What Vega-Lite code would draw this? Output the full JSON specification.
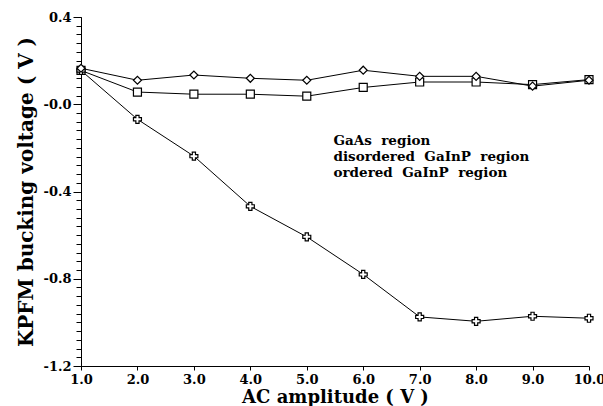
{
  "$schema": "https://vega.github.io/schema/vega-lite/v6.json",
  "width": 508,
  "height": 349,
  "autosize": {"type": "none"},
  "padding": {"left": 81, "top": 17, "right": 14, "bottom": 40},
  "background": "white",
  "config": {
    "view": {"stroke": null},
    "font": "DejaVu Serif",
    "axis": {
      "domainColor": "black",
      "domainWidth": 1,
      "tickColor": "black",
      "tickWidth": 1,
      "grid": false,
      "labelFont": "DejaVu Serif",
      "labelFontWeight": "bold",
      "labelFontSize": 13,
      "labelColor": "black",
      "labelFlush": false,
      "titleFont": "DejaVu Serif",
      "titleFontWeight": "bold",
      "titleFontSize": 18,
      "titleColor": "black"
    }
  },
  "data": {
    "values": [
      {"series": "GaAs region", "amp": 1, "v": 0.155},
      {"series": "GaAs region", "amp": 2, "v": 0.056},
      {"series": "GaAs region", "amp": 3, "v": 0.046},
      {"series": "GaAs region", "amp": 4, "v": 0.046},
      {"series": "GaAs region", "amp": 5, "v": 0.037},
      {"series": "GaAs region", "amp": 6, "v": 0.077},
      {"series": "GaAs region", "amp": 7, "v": 0.102},
      {"series": "GaAs region", "amp": 8, "v": 0.102},
      {"series": "GaAs region", "amp": 9, "v": 0.09},
      {"series": "GaAs region", "amp": 10, "v": 0.113},
      {"series": "disordered GaInP region", "amp": 1, "v": 0.155},
      {"series": "disordered GaInP region", "amp": 2, "v": -0.069},
      {"series": "disordered GaInP region", "amp": 3, "v": -0.238},
      {"series": "disordered GaInP region", "amp": 4, "v": -0.468},
      {"series": "disordered GaInP region", "amp": 5, "v": -0.608},
      {"series": "disordered GaInP region", "amp": 6, "v": -0.78},
      {"series": "disordered GaInP region", "amp": 7, "v": -0.975},
      {"series": "disordered GaInP region", "amp": 8, "v": -0.995},
      {"series": "disordered GaInP region", "amp": 9, "v": -0.972},
      {"series": "disordered GaInP region", "amp": 10, "v": -0.981},
      {"series": "ordered GaInP region", "amp": 1, "v": 0.165},
      {"series": "ordered GaInP region", "amp": 2, "v": 0.11},
      {"series": "ordered GaInP region", "amp": 3, "v": 0.134},
      {"series": "ordered GaInP region", "amp": 4, "v": 0.119},
      {"series": "ordered GaInP region", "amp": 5, "v": 0.11},
      {"series": "ordered GaInP region", "amp": 6, "v": 0.156},
      {"series": "ordered GaInP region", "amp": 7, "v": 0.128},
      {"series": "ordered GaInP region", "amp": 8, "v": 0.128},
      {"series": "ordered GaInP region", "amp": 9, "v": 0.083},
      {"series": "ordered GaInP region", "amp": 10, "v": 0.11}
    ]
  },
  "encoding": {
    "x": {
      "field": "amp",
      "type": "quantitative",
      "scale": {"domain": [1, 10], "nice": false, "zero": false},
      "axis": {
        "values": [1, 2, 3, 4, 5, 6, 7, 8, 9, 10],
        "format": ".1f",
        "tickSize": 4,
        "labelPadding": 3,
        "title": "AC amplitude ( V )",
        "titlePadding": 2
      }
    }
  },
  "layer": [
    {
      "mark": {"type": "line", "color": "black", "strokeWidth": 1},
      "encoding": {
        "detail": {"field": "series", "type": "nominal"},
        "y": {
          "field": "v",
          "type": "quantitative",
          "scale": {"domain": [-1.2, 0.4], "nice": false, "zero": false},
          "axis": {
            "orient": "left",
            "values": [-1.2, -0.8, -0.4, 0, 0.4],
            "tickSize": 8,
            "labelPadding": 2,
            "labelExpr": "datum.value > 0.01 ? format(datum.value, '.1f') : '-' + format(abs(datum.value), '.1f')",
            "title": "KPFM bucking voltage ( V )",
            "titleFontSize": 20,
            "titlePadding": 6
          }
        }
      }
    },
    {
      "mark": {"type": "point", "filled": true, "fill": "white", "stroke": "black", "strokeWidth": 1.2, "size": 64, "opacity": 1},
      "encoding": {
        "y": {
          "field": "v",
          "type": "quantitative",
          "scale": {"domain": [-1.2, 0.4], "nice": false, "zero": false},
          "axis": {
            "orient": "left",
            "values": [-1.2, -1.16, -1.12, -1.08, -1.04, -1, -0.96, -0.92, -0.88, -0.84, -0.8, -0.76, -0.72, -0.68, -0.64, -0.6, -0.56, -0.52, -0.48, -0.44, -0.4, -0.36, -0.32, -0.28, -0.24, -0.2, -0.16, -0.12, -0.08, -0.04, 0, 0.04, 0.08, 0.12, 0.16, 0.2, 0.24, 0.28, 0.32, 0.36, 0.4],
            "tickSize": 5,
            "labels": false,
            "domain": false,
            "title": null
          }
        },
        "shape": {
          "field": "series",
          "type": "nominal",
          "scale": {
            "domain": ["GaAs region", "disordered GaInP region", "ordered GaInP region"],
            "range": ["square", "cross", "diamond"]
          },
          "legend": {
            "title": null,
            "orient": "none",
            "legendX": 202,
            "legendY": 117,
            "padding": 0,
            "labelFont": "DejaVu Serif",
            "labelFontSize": 13.5,
            "labelFontWeight": "bold",
            "labelColor": "black",
            "labelLimit": 0,
            "labelOffset": 37,
            "labelExpr": "join(split(datum.label, ' '), '\u00a0 ')",
            "rowPadding": 1,
            "symbolSize": 81,
            "symbolStrokeColor": "black",
            "symbolFillColor": "white",
            "symbolStrokeWidth": 1
          }
        }
      }
    }
  ],
  "resolve": {"axis": {"y": "independent"}}
}
